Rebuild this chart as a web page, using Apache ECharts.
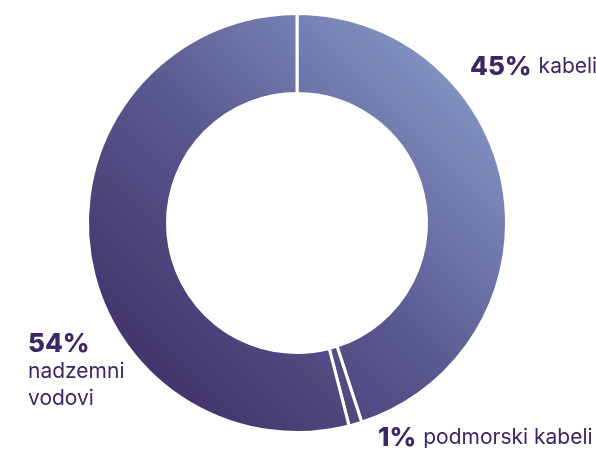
<!DOCTYPE html>
<html>
<head>
<meta charset="utf-8">
<script src="https://cdn.jsdelivr.net/npm/echarts@6/dist/echarts.min.js"></script>
<style>
  html, body { margin: 0; padding: 0; background: #fff; }
  #chart { width: 596px; height: 450px; }
</style>
</head>
<body>
<div id="chart"></div>
<script>
// Share of transmission line length by type
const names = ['kabeli', 'podmorski kabeli', 'nadzemni\nvodovi'];
const values = [45, 1, 54];

const chart = echarts.init(document.getElementById('chart'), null, { renderer: 'canvas' });

// one gradient across the whole ring: light top-right, dark bottom-left
const ringGradient = new echarts.graphic.LinearGradient(505, 15, 89, 431, [
  { offset: 0, color: '#90a8d4' },
  { offset: 0.5, color: '#5a5a90' },
  { offset: 1, color: '#38255e' }
], true);

const labelSpots = [
  { x: 470, y: 67, align: 'left', verticalAlign: 'middle' },
  { x: 378, y: 438, align: 'left', verticalAlign: 'middle' },
  { x: 28, y: 330, align: 'left', verticalAlign: 'top' }
];

chart.setOption({
  animation: false,
  series: [{
    type: 'pie',
    center: [297, 223],
    radius: [129.5, 209.5],
    startAngle: 90,
    clockwise: true,
    data: names.map((n, i) => ({ name: n, value: values[i] })),
    itemStyle: {
      color: ringGradient,
      borderColor: '#ffffff',
      borderWidth: 3
    },
    emphasis: { disabled: true },
    labelLine: { show: false },
    label: {
      show: true,
      position: 'outside',
      overflow: 'none',
      width: 300,
      formatter: (p) => {
        const pct = '{p|' + p.value + '%}';
        const lines = p.name.split('\n');
        if (lines.length > 1) {
          return pct + '\n' + lines.map(l => '{n|' + l + '}').join('\n');
        }
        return pct + '{g| }{n|' + p.name + '}';
      },
      rich: {
        p: { fontFamily: 'Inter', fontWeight: 800, fontSize: 26, color: '#3a2764', lineHeight: 27.5 },
        g: { fontSize: 20, width: 7 },
        n: { fontFamily: 'Inter', fontWeight: 400, fontSize: 21, color: '#3a2764', lineHeight: 27.5 }
      }
    },
    labelLayout: (params) => labelSpots[params.dataIndex]
  }]
});
</script>
</body>
</html>
